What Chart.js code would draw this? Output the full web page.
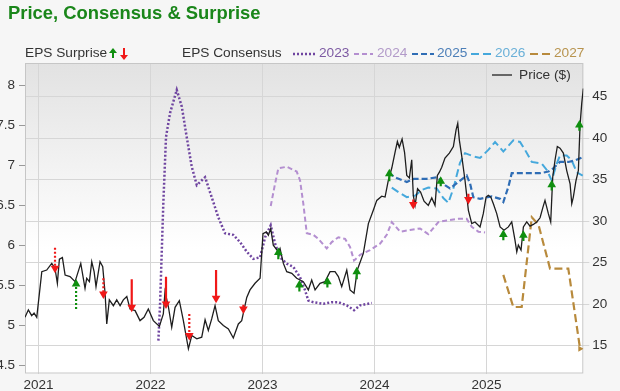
<!DOCTYPE html>
<html>
<head>
<meta charset="utf-8">
<script src="https://cdn.jsdelivr.net/npm/chart.js@4.4.1/dist/chart.umd.min.js"></script>
<style>
  body { margin:0; background:#f6f6f6; font-family:'Liberation Sans', Arial, sans-serif; }
  #wrap { position:relative; width:620px; height:391px; overflow:hidden; }
  #title { position:absolute; left:8px; top:3px; font-weight:bold; font-size:18.4px; line-height:20px; color:#1a861a; }
  .lg { position:absolute; top:45px; font-size:13.7px; line-height:16px; color:#333; white-space:nowrap; }
  canvas, svg { position:absolute; left:0; top:0; }
</style>
</head>
<body>
<div id="wrap">
  <canvas id="chart" width="620" height="391"></canvas>
  <div id="title">Price, Consensus &amp; Surprise</div>
  <div class="lg" style="left:25px">EPS Surprise</div>
  <div class="lg" style="left:182px">EPS Consensus</div>
  <div class="lg" style="left:319px;color:#7d5aa3">2023</div>
  <div class="lg" style="left:377px;color:#b29ac9">2024</div>
  <div class="lg" style="left:437px;color:#4d7fb8">2025</div>
  <div class="lg" style="left:495px;color:#6ab0d8">2026</div>
  <div class="lg" style="left:554px;color:#b8944f">2027</div>
  <div class="lg" style="left:519px;top:67px">Price ($)</div>
  <svg width="620" height="100">
    <polygon points="109,53 113,48 117,53" fill="#0f8f0f"/>
    <rect x="112" y="52" width="2" height="6" fill="#0f8f0f"/>
    <polygon points="120,55 124,60 128,55" fill="#f01818"/>
    <rect x="123" y="48" width="2" height="8" fill="#f01818"/>
    <line x1="293" y1="54" x2="316" y2="54" stroke="#6f45a0" stroke-width="2.5" stroke-dasharray="2 2"/>
    <line x1="354" y1="54" x2="373" y2="54" stroke="#b48fd0" stroke-width="2" stroke-dasharray="5 3"/>
    <line x1="412" y1="54" x2="434" y2="54" stroke="#2f6db5" stroke-width="2" stroke-dasharray="6 3"/>
    <line x1="471" y1="54" x2="492" y2="54" stroke="#45a8dc" stroke-width="2" stroke-dasharray="8 4"/>
    <line x1="530" y1="54" x2="552" y2="54" stroke="#b88a3c" stroke-width="2" stroke-dasharray="8 4"/>
    <line x1="492" y1="75" x2="512" y2="75" stroke="#666" stroke-width="2"/>
  </svg>
</div>
<script>
// axis ranges
const xRange = [2020.879, 2025.864];
const epsRange = [4.4, 8.275];
const priceRange = [11.62, 49.07];

// share price ($), decimal year
const priceDates = [
  2020.879, 2020.909, 2020.939, 2020.960, 2020.984, 2021.029, 2021.073, 2021.118, 2021.147, 2021.168,
  2021.186, 2021.213, 2021.237, 2021.281, 2021.326, 2021.377, 2021.415, 2021.430, 2021.454, 2021.475,
  2021.496, 2021.513, 2021.549, 2021.573, 2021.594, 2021.609, 2021.632, 2021.668, 2021.698, 2021.728,
  2021.757, 2021.788, 2021.817, 2021.862, 2021.906, 2021.942, 2021.980, 2022.025, 2022.079, 2022.114,
  2022.129, 2022.159, 2022.189, 2022.219, 2022.257, 2022.293, 2022.338, 2022.368, 2022.413, 2022.457,
  2022.487, 2022.516, 2022.546, 2022.576, 2022.605, 2022.650, 2022.695, 2022.739, 2022.784, 2022.814,
  2022.859, 2022.888, 2022.933, 2022.978, 2023.004, 2023.034, 2023.052, 2023.073, 2023.096, 2023.141,
  2023.156, 2023.186, 2023.216, 2023.261, 2023.305, 2023.364, 2023.409, 2023.439, 2023.469, 2023.513,
  2023.558, 2023.603, 2023.647, 2023.677, 2023.707, 2023.752, 2023.781, 2023.817, 2023.846, 2023.900,
  2023.945, 2023.989, 2024.020, 2024.064, 2024.094, 2024.123, 2024.154, 2024.183, 2024.204, 2024.221,
  2024.246, 2024.268, 2024.288, 2024.311, 2024.332, 2024.346, 2024.362, 2024.384, 2024.411, 2024.442,
  2024.480, 2024.511, 2024.540, 2024.561, 2024.579, 2024.600, 2024.629, 2024.668, 2024.704, 2024.728,
  2024.743, 2024.757, 2024.779, 2024.808, 2024.838, 2024.868, 2024.897, 2024.942, 2024.971, 2024.996,
  2025.016, 2025.038, 2025.061, 2025.091, 2025.121, 2025.156, 2025.195, 2025.225, 2025.254, 2025.270,
  2025.284, 2025.308, 2025.329, 2025.359, 2025.388, 2025.418, 2025.448, 2025.478, 2025.502, 2025.522,
  2025.552, 2025.573, 2025.591, 2025.612, 2025.632, 2025.656, 2025.686, 2025.716, 2025.746, 2025.761,
  2025.775, 2025.799, 2025.820, 2025.835, 2025.850, 2025.864
];
const priceValues = [
  18.4, 19.3, 18.6, 18.9, 18.4, 23.9, 24.1, 24.9, 24.3, 22.5,
  25.4, 25.6, 23.5, 23.3, 22.7, 24.9, 21.9, 23.1, 22.7, 25.1,
  23.9, 22.1, 25.1, 24.5, 21.3, 17.6, 20.5, 19.8, 20.5, 19.8,
  20.5, 20.9, 19.4, 19.2, 18.0, 18.4, 19.4, 18.0, 17.3, 18.8,
  21.5, 19.7, 17.2, 19.6, 20.4, 18.0, 14.6, 16.2, 15.8, 16.0,
  18.1, 16.8, 18.2, 19.8, 18.0, 17.4, 17.0, 15.9, 17.6, 18.0,
  20.8, 21.7, 22.5, 23.1, 28.5, 28.7, 28.3, 29.1, 27.1, 26.3,
  26.7, 24.9, 23.9, 23.7, 23.1, 22.7, 21.7, 22.9, 21.7, 22.5,
  22.7, 23.9, 23.9, 23.3, 22.1, 24.1, 21.7, 21.3, 24.1, 26.1,
  29.7, 31.3, 32.5, 33.0, 32.9, 34.9, 36.4, 38.3, 39.6, 38.9,
  39.9, 38.3, 35.5, 35.2, 37.4, 33.1, 31.9, 33.9, 33.5, 32.4,
  31.9, 32.8, 31.9, 35.5, 35.9, 36.5, 37.6, 38.2, 39.0, 41.0,
  41.8, 39.8, 37.8, 34.9, 31.3, 29.7, 29.9, 29.3, 30.9, 32.9,
  33.1, 32.9, 32.1, 30.9, 29.3, 28.9, 29.3, 29.9, 27.7, 26.3,
  27.1, 26.5, 29.3, 29.9, 29.4, 29.6, 29.9, 30.4, 31.6, 32.5,
  30.9, 29.9, 35.3, 37.4, 39.0, 38.8, 38.2, 36.1, 34.5, 32.1,
  32.9, 34.9, 36.1, 41.6, 44.2, 46.0
];

// EPS consensus per fiscal year
const eps2023Dates = [2022.070, 2022.085, 2022.114, 2022.138, 2022.174, 2022.234, 2022.279, 2022.323, 2022.368, 2022.413,
  2022.487, 2022.546, 2022.605, 2022.665, 2022.739, 2022.799, 2022.859, 2022.918, 2022.978, 2023.023,
  2023.073, 2023.112, 2023.156, 2023.216, 2023.275, 2023.335, 2023.379, 2023.409, 2023.454, 2023.543,
  2023.618, 2023.677, 2023.752, 2023.817, 2023.871, 2023.975];
const eps2023Values = [4.81, 5.27, 6.52, 7.35, 7.65, 7.94, 7.73, 7.35, 6.98, 6.75,
  6.85, 6.60, 6.35, 6.15, 6.13, 6.04, 5.92, 5.83, 5.85, 6.10,
  6.25, 6.02, 5.85, 5.77, 5.73, 5.60, 5.44, 5.31, 5.29, 5.27,
  5.29, 5.29, 5.25, 5.19, 5.25, 5.28];

const eps2024Dates = [2023.073, 2023.112, 2023.141, 2023.216, 2023.305, 2023.335, 2023.364, 2023.395, 2023.454, 2023.498,
  2023.573, 2023.618, 2023.677, 2023.737, 2023.781, 2023.817, 2023.871, 2023.960, 2024.049, 2024.109,
  2024.154, 2024.228, 2024.317, 2024.406, 2024.480, 2024.570, 2024.645, 2024.748, 2024.823, 2024.868,
  2024.927, 2024.987];
const eps2024Values = [6.49, 6.77, 6.96, 6.98, 6.92, 6.81, 6.52, 6.15, 6.13, 6.08,
  5.96, 6.04, 6.10, 6.08, 5.98, 5.81, 5.88, 5.94, 6.02, 6.13,
  6.29, 6.17, 6.19, 6.21, 6.14, 6.29, 6.31, 6.33, 6.33, 6.23,
  6.17, 6.16];

const eps2025Dates = [2024.123, 2024.198, 2024.288, 2024.353, 2024.466, 2024.563, 2024.629, 2024.674, 2024.748, 2024.823,
  2024.853, 2024.882, 2024.942, 2025.046, 2025.121, 2025.150, 2025.195, 2025.225, 2025.388, 2025.478,
  2025.552, 2025.596, 2025.656, 2025.730, 2025.790, 2025.859];
const eps2025Values = [6.90, 6.84, 6.79, 6.83, 6.83, 6.85, 6.75, 6.71, 6.79, 6.87,
  6.77, 6.60, 6.58, 6.61, 6.58, 6.54, 6.73, 6.90, 6.90, 6.90,
  6.92, 6.96, 7.04, 7.04, 7.06, 7.10];

const eps2026Dates = [2024.154, 2024.228, 2024.288, 2024.362, 2024.421, 2024.480, 2024.555, 2024.614, 2024.659, 2024.704,
  2024.763, 2024.808, 2024.882, 2024.942, 2025.016, 2025.076, 2025.150, 2025.239, 2025.299, 2025.344,
  2025.404, 2025.493, 2025.538, 2025.582, 2025.627, 2025.656, 2025.716, 2025.761, 2025.805, 2025.859];
const eps2026Values = [6.72, 6.65, 6.60, 6.62, 6.69, 6.72, 6.71, 6.59, 6.53, 6.71,
  7.03, 7.15, 7.11, 7.09, 7.19, 7.29, 7.17, 7.31, 7.29, 7.19,
  7.04, 7.02, 6.94, 6.81, 7.02, 7.12, 7.12, 7.06, 6.91, 6.87];

const eps2027Dates = [2025.150, 2025.239, 2025.314, 2025.404, 2025.463, 2025.567, 2025.730, 2025.835];
const eps2027Values = [5.63, 5.23, 5.23, 6.35, 6.26, 5.71, 5.71, 4.71];

// EPS surprise arrows, drawn against the price axis
const surpriseDates = [2021.147, 2021.335, 2021.579, 2021.832, 2022.138, 2022.346, 2022.585, 2022.829, 2023.141, 2023.329,
  2023.579, 2023.841, 2024.132, 2024.346, 2024.591, 2024.838, 2025.150, 2025.329, 2025.582, 2025.829];
const surpriseHead = [24.3, 22.4, 21.2, 19.6, 20.0, 16.2, 20.7, 19.4, 26.2, 22.3,
  22.7, 23.9, 35.7, 32.0, 34.8, 32.6, 28.4, 28.3, 34.4, 41.6];
const surpriseTail = [26.8, 19.4, 23.1, 23.0, 23.3, 18.8, 24.1, 19.9, 25.4, 21.5,
  22.0, 23.0, 34.8, 32.6, 34.2, 33.3, 27.7, 27.6, 33.7, 40.9];
const surpriseDir = ['down', 'up', 'down', 'down', 'down', 'down', 'down', 'down', 'up', 'up',
  'up', 'up', 'up', 'down', 'up', 'down', 'up', 'up', 'up', 'up'];
const surpriseDotted = [true, true, true, false, false, true, false, false, false, false,
  false, false, false, false, false, false, false, false, false, false];

const GREEN = '#0f8f0f', RED = '#f01818';

const toPoints = (xs, ys) => xs.map((x, i) => ({ x, y: ys[i] }));

function shaftPoints(dir, dotted) {
  const pts = [];
  surpriseDates.forEach((x, i) => {
    if (surpriseDir[i] === dir && surpriseDotted[i] === dotted) {
      pts.push({ x, y: surpriseTail[i] }, { x, y: surpriseHead[i] }, { x, y: null });
    }
  });
  return pts;
}

function headPoints(dir) {
  return surpriseDates
    .map((x, i) => surpriseDir[i] === dir ? { x, y: surpriseHead[i] } : null)
    .filter(Boolean);
}

const heads = (dir, color) => ({
  data: headPoints(dir), yAxisID: 'y2', showLine: false,
  pointStyle: 'triangle', pointRadius: 5, pointRotation: dir === 'down' ? 180 : 0,
  pointBackgroundColor: color, pointBorderWidth: 0, borderColor: color
});
const shafts = (dir, dotted, color) => ({
  data: shaftPoints(dir, dotted), yAxisID: 'y2', spanGaps: false,
  borderColor: color, borderWidth: 2.2, borderDash: dotted ? [2, 2] : [], pointRadius: 0
});
const epsLine = (xs, ys, color, dash, width) => ({
  data: toPoints(xs, ys), yAxisID: 'y', borderColor: color, borderWidth: width,
  borderDash: dash, pointRadius: 0, tension: 0
});

const plotBg = {
  id: 'plotBg',
  beforeDraw(chart) {
    const { ctx, chartArea: a } = chart;
    const g = ctx.createLinearGradient(0, a.top, 0, a.bottom);
    g.addColorStop(0, '#e2e2e2');
    g.addColorStop(0.6, '#ffffff');
    g.addColorStop(1, '#ffffff');
    ctx.save();
    ctx.fillStyle = g;
    ctx.fillRect(a.left, a.top, a.right - a.left, a.bottom - a.top);
    ctx.restore();
  },
  beforeDatasetsDraw(chart) {
    const { ctx, chartArea: a } = chart;
    ctx.save();
    ctx.strokeStyle = '#c6c6c6';
    ctx.lineWidth = 1;
    ctx.strokeRect(a.left + 0.5, a.top + 0.5, a.right - a.left - 1, a.bottom - a.top - 1);
    ctx.restore();
  }
};

Chart.defaults.font.family = "'Liberation Sans', Arial, sans-serif";
Chart.defaults.color = '#333';

const last2027 = eps2027Dates.length - 1;

new Chart(document.getElementById('chart'), {
  type: 'line',
  data: {
    datasets: [
      heads('up', GREEN),
      heads('down', RED),
      shafts('up', false, GREEN),
      shafts('up', true, GREEN),
      shafts('down', false, RED),
      shafts('down', true, RED),
      {
        data: toPoints(priceDates, priceValues), yAxisID: 'y2',
        borderColor: '#1e1e1e', borderWidth: 1.3, pointRadius: 0, tension: 0
      },
      epsLine(eps2023Dates, eps2023Values, '#6f45a0', [2, 2], 2.5),
      epsLine(eps2024Dates, eps2024Values, '#b48fd0', [5, 3], 2),
      epsLine(eps2025Dates, eps2025Values, '#2f6db5', [6, 3], 2.2),
      epsLine(eps2026Dates, eps2026Values, '#45a8dc', [8, 4], 2),
      {
        ...epsLine(eps2027Dates, eps2027Values, '#b88a3c', [8, 4], 2.2),
        pointStyle: 'triangle', pointRotation: 90, pointBackgroundColor: '#b88a3c', pointBorderWidth: 0,
        pointRadius: c => c.dataIndex === last2027 ? 3.5 : 0
      }
    ]
  },
  options: {
    responsive: false,
    animation: false,
    layout: { padding: { top: 63, left: 0, right: 0, bottom: 0 } },
    plugins: { legend: { display: false }, tooltip: { enabled: false } },
    scales: {
      x: {
        type: 'linear', min: xRange[0], max: xRange[1],
        afterFit: s => { s.height = 17.5; },
        grid: { color: '#d6d6d6', drawTicks: false },
        border: { display: false },
        ticks: { stepSize: 1, includeBounds: false, padding: 4, font: { size: 13.5 }, maxRotation: 0, autoSkip: false, callback: v => String(v) }
      },
      y: {
        position: 'left', min: epsRange[0], max: epsRange[1],
        afterFit: s => { s.width = 25; },
        grid: { drawOnChartArea: false, color: '#999', tickLength: 6 },
        border: { display: false },
        ticks: { stepSize: 0.5, includeBounds: false, padding: 4, font: { size: 13.5 }, callback: v => String(v) }
      },
      y2: {
        position: 'right', min: priceRange[0], max: priceRange[1],
        afterFit: s => { s.width = 36.7; },
        grid: { color: '#d6d6d6', tickLength: 6 },
        border: { display: false },
        ticks: { stepSize: 5, includeBounds: false, padding: 3, font: { size: 13.5 }, callback: v => String(v) }
      }
    }
  },
  plugins: [plotBg]
});
</script>
</body>
</html>
